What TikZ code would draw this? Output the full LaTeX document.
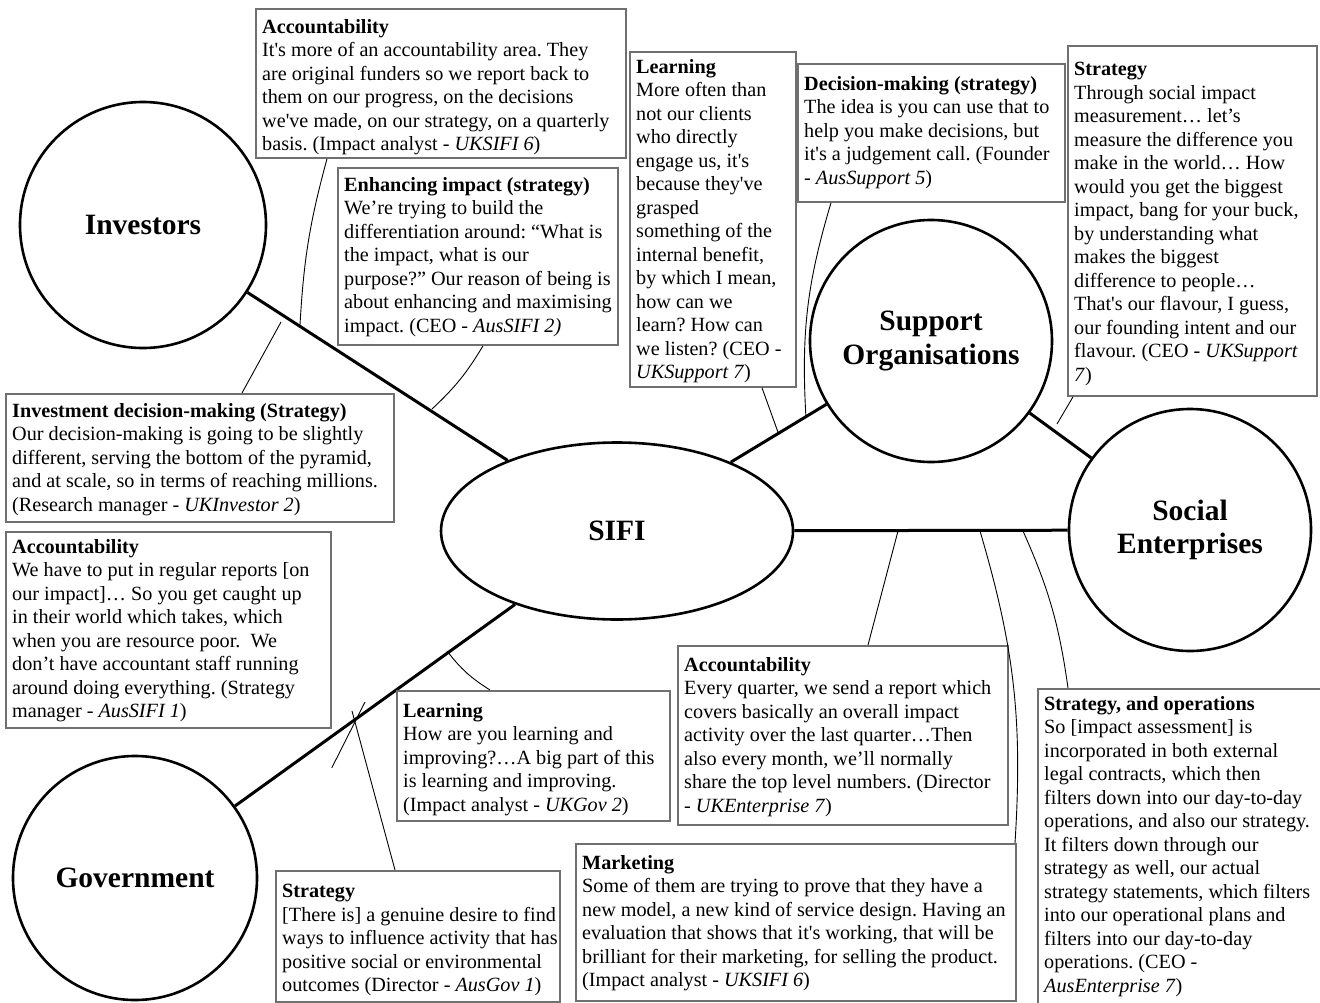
\documentclass[tikz,border=0pt]{standalone}
\usepackage{fontspec}
\setmainfont{Liberation Serif}[Ligatures=TeXOff]
\usetikzlibrary{shapes.geometric}
\definecolor{boxgray}{HTML}{707070}
\tikzset{
  actor/.style={circle, draw, line width=2.6pt, minimum size=#1, align=center,
    font=\fontsize{29.5}{33.5}\selectfont\bfseries},
  hub/.style={ellipse, draw, line width=2.6pt, minimum width=352pt, minimum height=177pt,
    font=\fontsize{29.5}{33.5}\selectfont\bfseries},
  link/.style={line width=3pt},
  note/.style={line width=0.9pt},
  qbox/.style={draw=boxgray, line width=1.8pt, anchor=north west, inner sep=0pt},
  qtext/.style={anchor=north west, inner sep=0pt, xshift=7pt, yshift=-12pt, align=left,
    font=\fontsize{20.2}{23.5}\selectfont\frenchspacing},
}
\begin{document}
\begin{tikzpicture}[x=1pt,y=-1pt]
\useasboundingbox (0,0) rectangle (1320,1002);

% actors
\node[actor=246pt] (inv) at (143,225) {Investors};
\node[hub] (sifi) at (617,531) {SIFI};
\node[actor=242pt] (sup) at (931,341) {Support\\Organisations};
\node[actor=242pt] (soc) at (1190,530) {Social\\Enterprises};
\node[actor=244pt] (gov) at (135,878) {Government};

\draw[link] (inv) -- (sifi);
\draw[link] (gov) -- (sifi);
\draw[link] (sifi) -- (soc);
\draw[link] (sifi) -- (sup);
\draw[link] (sup) -- (soc);

% quotes
\node[qbox, minimum width=370pt, minimum height=149pt, label={[qtext, yshift=1pt]north west:{\textbf{Accountability}\\It's more of an accountability area. They\\are original funders so we report back to\\them on our progress, on the decisions\\we've made, on our strategy, on a quarterly\\basis. (Impact analyst - \textit{UKSIFI 6})}}] (acctop) at (255,8) {};

\node[qbox, minimum width=280pt, minimum height=177pt, label={[qtext, yshift=2pt]north west:{\textbf{Enhancing impact (strategy)}\\We’re trying to build the\\differentiation around: “What is\\the impact, what is our\\purpose?” Our reason of being is\\about enhancing and maximising\\impact. (CEO - \textit{AusSIFI 2)}}}] (enh) at (337,167) {};

\node[qbox, minimum width=166pt, minimum height=335pt, label={[qtext, yshift=4pt]north west:{\textbf{Learning}\\More often than\\not our clients\\who directly\\engage us, it's\\because they've\\grasped\\something of the\\internal benefit,\\by which I mean,\\how can we\\learn? How can\\we listen? (CEO -\\\textit{UKSupport 7})}}] (learntop) at (629,51) {};

\node[qbox, minimum width=267pt, minimum height=138pt, label={[qtext, yshift=-1pt]north west:{\textbf{Decision-making (strategy)}\\The idea is you can use that to\\help you make decisions, but\\it's a judgement call. (Founder\\- \textit{AusSupport 5})}}] (decide) at (797,63) {};

\node[qbox, minimum width=249pt, minimum height=350pt, label={[qtext, yshift=-5pt]north west:{\textbf{Strategy}\\Through social impact\\measurement… let’s\\measure the difference you\\make in the world… How\\would you get the biggest\\impact, bang for your buck,\\by understanding what\\makes the biggest\\difference to people…\\That's our flavour, I guess,\\our founding intent and our\\flavour. (CEO - \textit{UKSupport}\\\textit{7})}}] (stratsup) at (1067,45) {};

\node[qbox, minimum width=388pt, minimum height=128pt, label={[qtext, yshift=2pt]north west:{\textbf{Investment decision-making (Strategy)}\\Our decision-making is going to be slightly\\different, serving the bottom of the pyramid,\\and at scale, so in terms of reaching millions.\\(Research manager - \textit{UKInvestor 2})}}] (invdec) at (5,393) {};

\node[qbox, minimum width=325pt, minimum height=196pt, label={[qtext, yshift=4pt]north west:{\textbf{Accountability}\\We have to put in regular reports [on\\our impact]… So you get caught up\\in their world which takes, which\\when you are resource poor.\ \ We\\don’t have accountant staff running\\around doing everything. (Strategy\\manager - \textit{AusSIFI 1})}}] (accsifi) at (5,531) {};

\node[qbox, minimum width=273pt, minimum height=130pt, label={[qtext, yshift=-1pt]north west:{\textbf{Learning}\\How are you learning and\\improving?…A big part of this\\is learning and improving.\\(Impact analyst - \textit{UKGov 2})}}] (learngov) at (396,690) {};

\node[qbox, minimum width=330pt, minimum height=179pt, label={[qtext]north west:{\textbf{Accountability}\\Every quarter, we send a report which\\covers basically an overall impact\\activity over the last quarter…Then\\also every month, we’ll normally\\share the top level numbers. (Director\\- \textit{UKEnterprise 7})}}] (accent) at (677,645) {};

\node[qbox, minimum width=300pt, minimum height=330pt, label={[qtext, yshift=4pt]north west:{\textbf{Strategy, and operations}\\So [impact assessment] is\\incorporated in both external\\legal contracts, which then\\filters down into our day-to-day\\operations, and also our strategy.\\It filters down through our\\strategy as well, our actual\\strategy statements, which filters\\into our operational plans and\\filters into our day-to-day\\operations. (CEO -\\\textit{AusEnterprise 7})}}] (stratent) at (1037,688) {};

\node[qbox, minimum width=440pt, minimum height=157pt, label={[qtext]north west:{\textbf{Marketing}\\Some of them are trying to prove that they have a\\new model, a new kind of service design. Having an\\evaluation that shows that it's working, that will be\\brilliant for their marketing, for selling the product.\\(Impact analyst - \textit{UKSIFI 6})}}] (market) at (575,843) {};

\node[qbox, minimum width=284pt, minimum height=131pt, label={[qtext, yshift=-2pt]north west:{\textbf{Strategy}\\{}[There is] a genuine desire to find\\ways to influence activity that has\\positive social or environmental\\outcomes (Director - \textit{AusGov 1})}}] (stratgov) at (275,870) {};

% ends on the links
\coordinate (e1) at (300,325);
\coordinate (e2) at (432,409);
\coordinate (e3) at (281,322);
\coordinate (e4) at (779,435);
\coordinate (e5) at (806,418);
\coordinate (e6) at (1057,424);
\coordinate (e7) at (365,702);
\coordinate (e8) at (447,651);
\coordinate (e9) at (352,711);
\coordinate (e10) at (898,531);
\coordinate (e11) at (1023,531);
\coordinate (e12) at (980,531);

\draw[note] ([xshift=72pt]acctop.south west) to[bend right=6] (e1);
\draw[note] ([xshift=146pt]enh.south west) to[bend left=8] (e2);
\draw[note] ([xshift=237pt]invdec.north west) -- (e3);
\draw[note] ([xshift=133pt]learntop.south west) -- (e4);
\draw[note] ([xshift=34pt]decide.south west) to[bend right=10] (e5);
\draw[note] ([xshift=6pt]stratsup.south west) -- (e6);
\draw[note] ([yshift=-39pt]accsifi.south east) -- (e7);
\draw[note] ([xshift=94pt]learngov.north west) to[bend left=10] (e8);
\draw[note] ([xshift=120pt]stratgov.north west) -- (e9);
\draw[note] ([xshift=191pt]accent.north west) -- (e10);
\draw[note] ([xshift=31pt]stratent.north west) to[bend right=8] (e11);
\draw[note] ([xshift=440pt]market.north west) to[bend right=10] (e12);
\end{tikzpicture}
\end{document}
